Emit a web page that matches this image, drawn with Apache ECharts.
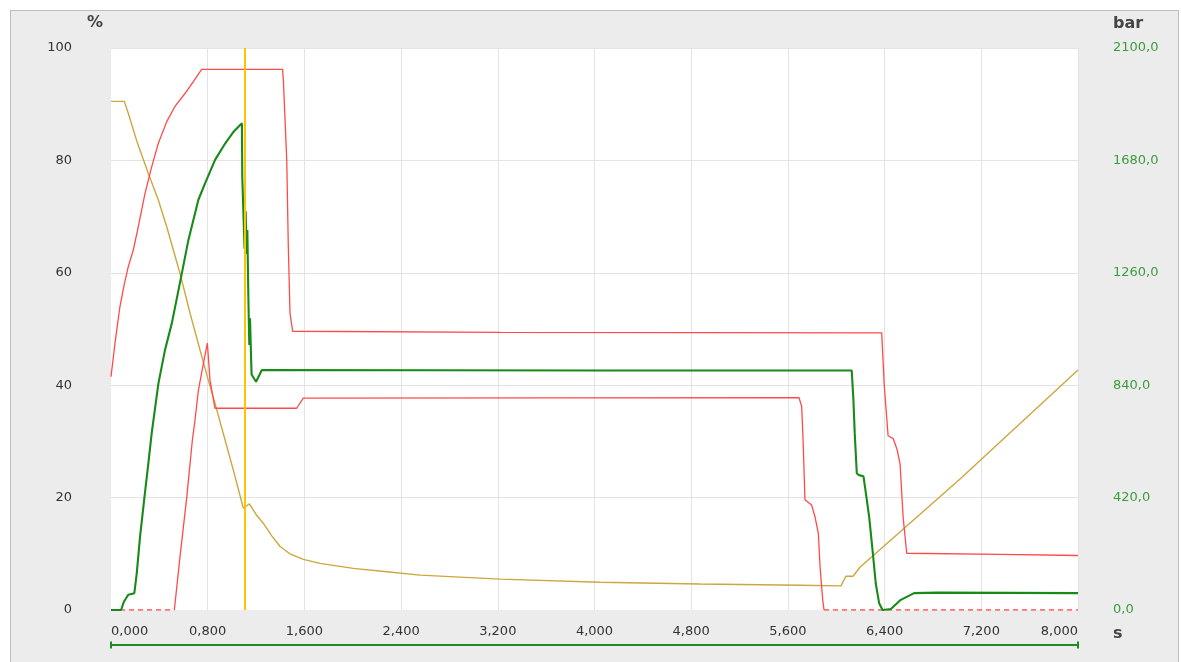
<!DOCTYPE html>
<html>
<head>
<meta charset="utf-8">
<title>Injection profile</title>
<script src="https://cdn.jsdelivr.net/npm/echarts@6/dist/echarts.min.js"></script>
<style>
  html, body { margin: 0; padding: 0; background: #ffffff; }
  #frame {
    position: absolute; left: 10px; top: 10px; width: 1167px; height: 660px;
    border: 1px solid #bdbdbd; border-bottom: none; background: #ececec;
  }
  #chart { position: absolute; left: 0; top: 0; width: 1181px; height: 662px; }
</style>
</head>
<body>
<div id="frame"></div>
<div id="chart"></div>
<script>
// Time axis (s) and scales
const timeMax = 8.0;
const timeStep = 0.8;
const pctMax = 100;
const pctStep = 20;
const barMax = 2100;
const barStep = 420;
const cursorTime = 1.11;

// Valve opening A (%)  [time s, value %]
const valveA = [
  [0.000, 41.5], [0.033, 47.5], [0.074, 54.0], [0.110, 58.0], [0.143, 61.1],
  [0.185, 64.1], [0.226, 68.2], [0.281, 74.1], [0.337, 78.9], [0.391, 83.0],
  [0.461, 86.9], [0.529, 89.6], [0.612, 91.9], [0.681, 94.0], [0.750, 96.2],
  [1.419, 96.2], [1.426, 94.3], [1.454, 80.0], [1.467, 64.6], [1.481, 52.8],
  [1.503, 49.6], [3.220, 49.4], [6.376, 49.3], [6.397, 40.0], [6.429, 31.0],
  [6.471, 30.5], [6.504, 28.5], [6.528, 26.0], [6.553, 16.6], [6.583, 10.1],
  [7.355, 9.9], [8.000, 9.7]
];

// Valve opening B (%) while active
const valveB = [
  [0.524, 0.0], [0.571, 9.5], [0.626, 19.9], [0.673, 30.2], [0.695, 33.8],
  [0.723, 39.1], [0.770, 44.5], [0.797, 47.5], [0.819, 40.9], [0.860, 35.9],
  [1.536, 35.9], [1.591, 37.7], [5.692, 37.8], [5.714, 36.2], [5.726, 30.0],
  [5.741, 19.6], [5.796, 18.7], [5.824, 16.6], [5.852, 13.6], [5.866, 7.7],
  [5.888, 1.8], [5.899, 0.0]
];

// Valve B idle periods (drawn dashed at zero)
const valveBIdle = [
  [0.000, 0], [0.524, 0], '-', [5.899, 0], [8.000, 0]
];

// Stroke / position trace (%)
const stroke = [
  [0.000, 90.5], [0.110, 90.5], [0.143, 88.4], [0.211, 83.6], [0.308, 77.7],
  [0.391, 73.0], [0.461, 68.2], [0.515, 64.1], [0.571, 59.9], [0.654, 52.8],
  [0.736, 46.3], [0.805, 40.9], [0.860, 36.8], [0.929, 31.4], [1.012, 24.9],
  [1.095, 18.1], [1.145, 18.9], [1.200, 17.0], [1.261, 15.4], [1.330, 13.2],
  [1.399, 11.3], [1.480, 10.0], [1.591, 9.0], [1.729, 8.3], [2.005, 7.4],
  [2.281, 6.8], [2.557, 6.2], [3.219, 5.5], [4.046, 4.95], [4.873, 4.63],
  [5.701, 4.4], [6.039, 4.3], [6.080, 6.0], [6.139, 6.0], [6.196, 7.6],
  [7.024, 23.3], [8.000, 42.7]
];

// Pressure (bar), right axis
const pressure = [
  [0.000, 0], [0.083, 0], [0.108, 32], [0.143, 57], [0.193, 63],
  [0.213, 137], [0.240, 273], [0.276, 418], [0.309, 548], [0.337, 662],
  [0.392, 846], [0.447, 972], [0.503, 1071], [0.586, 1258], [0.640, 1382],
  [0.723, 1533], [0.778, 1594], [0.861, 1682], [0.944, 1743], [1.010, 1785],
  [1.083, 1819], [1.086, 1617], [1.105, 1350], [1.114, 1490], [1.122, 1330],
  [1.128, 1420], [1.136, 1180], [1.144, 990], [1.150, 1090], [1.163, 880],
  [1.200, 853], [1.248, 897], [4.050, 895], [6.128, 895], [6.142, 785],
  [6.153, 659], [6.170, 510], [6.188, 504], [6.225, 500], [6.245, 437],
  [6.272, 349], [6.300, 225], [6.327, 99], [6.355, 25], [6.383, 0],
  [6.452, 4], [6.534, 38], [6.644, 63], [6.837, 65], [8.000, 63]
];

const RED = '#ff4a4a';
const GOLD = '#cca63f';
const GREEN = '#178a17';
const LABEL_GREEN = '#3c9c3c';
const TEXT = '#333333';

const commaFixed = (v, d) => Number(v).toFixed(d).replace('.', ',');

const chart = echarts.init(document.getElementById('chart'), null, { renderer: 'canvas' });

const lineBase = {
  type: 'line',
  showSymbol: false,
  symbol: 'none',
  smooth: false,
  animation: false,
  silent: true
};

chart.setOption({
  animation: false,
  backgroundColor: 'transparent',
  textStyle: { fontFamily: 'DejaVu Sans' },
  grid: {
    left: 111, top: 48, width: 967, height: 562,
    show: true, backgroundColor: '#ffffff', borderWidth: 0
  },
  xAxis: [
    {
      type: 'value',
      min: 0, max: timeMax, interval: timeStep,
      axisLine: { show: false, onZero: false },
      axisTick: { show: false },
      axisLabel: {
        color: TEXT, fontSize: 13, margin: 15,
        alignMinLabel: 'left', alignMaxLabel: 'right',
        formatter: v => commaFixed(v, 3)
      },
      splitLine: { show: true, showMinLine: false, lineStyle: { color: '#e3e3e3', width: 1 } },
      name: 's',
      nameLocation: 'end',
      nameGap: 35,
      nameTextStyle: {
        color: '#444444', fontSize: 16, fontWeight: 'bold',
        verticalAlign: 'top', padding: [16, 0, 0, 0]
      }
    },
    {
      // time range bar under the axis
      type: 'value',
      position: 'bottom',
      offset: 35,
      min: 0, max: timeMax,
      axisLine: {
        show: true,
        onZero: false,
        lineStyle: { color: '#1f8a1f', width: 2 },
        symbol: ['rect', 'rect'],
        symbolSize: [7, 2]
      },
      axisTick: { show: false },
      axisLabel: { show: false },
      splitLine: { show: false }
    }
  ],
  yAxis: [
    {
      type: 'value',
      position: 'left',
      min: 0, max: pctMax, interval: pctStep,
      axisLine: { show: false, onZero: false },
      axisTick: { show: false },
      axisLabel: { color: TEXT, fontSize: 13, margin: 39 },
      splitLine: { show: true, showMinLine: false, lineStyle: { color: '#e3e3e3', width: 1 } },
      name: '%',
      nameLocation: 'end',
      nameGap: 25,
      nameTextStyle: {
        color: '#444444', fontSize: 16, fontWeight: 'bold',
        align: 'right', verticalAlign: 'middle', padding: [0, 8, 0, 0]
      }
    },
    {
      type: 'value',
      position: 'right',
      min: 0, max: barMax, interval: barStep,
      axisLine: { show: false, onZero: false },
      axisTick: { show: false },
      axisLabel: {
        color: LABEL_GREEN, fontSize: 13, margin: 35,
        formatter: v => commaFixed(v, 1)
      },
      splitLine: { show: false },
      name: 'bar',
      nameLocation: 'end',
      nameGap: 24,
      nameTextStyle: {
        color: '#444444', fontSize: 16, fontWeight: 'bold',
        align: 'left', verticalAlign: 'middle', padding: [0, 0, 0, 35]
      }
    }
  ],
  series: [
    Object.assign({}, lineBase, {
      name: 'Stroke', data: stroke, z: 2,
      lineStyle: { color: GOLD, width: 1.4 }
    }),
    Object.assign({}, lineBase, {
      name: 'Valve A', data: valveA, z: 3,
      lineStyle: { color: RED, width: 1.3 }
    }),
    Object.assign({}, lineBase, {
      name: 'Valve B', data: valveB, z: 3,
      lineStyle: { color: RED, width: 1.3 }
    }),
    Object.assign({}, lineBase, {
      name: 'Valve B idle', data: valveBIdle, z: 3, connectNulls: false,
      lineStyle: { color: RED, width: 1.3, type: [5, 4] }
    }),
    Object.assign({}, lineBase, {
      name: 'Pressure', data: pressure, yAxisIndex: 1, z: 4,
      lineStyle: { color: GREEN, width: 2.1 }
    }),
    Object.assign({}, lineBase, {
      name: 'Cursor', data: [], z: 6,
      markLine: {
        silent: true,
        animation: false,
        symbol: ['none', 'none'],
        label: { show: false },
        lineStyle: { color: '#ffc400', width: 2, type: 'solid' },
        data: [{ xAxis: cursorTime }]
      }
    })
  ]
});
</script>
</body>
</html>
